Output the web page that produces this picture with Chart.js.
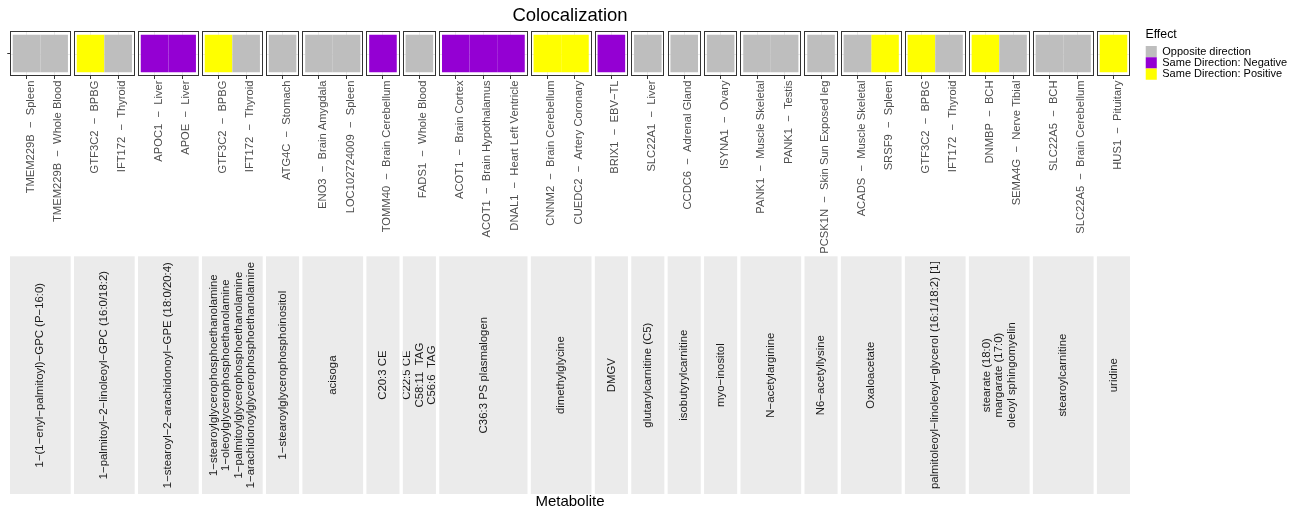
<!DOCTYPE html>
<html>
<head>
<meta charset="utf-8">
<title>Colocalization</title>
<script src="https://cdn.jsdelivr.net/npm/chart.js@4.4.1/dist/chart.umd.min.js"></script>
<style>
  html, body { margin: 0; padding: 0; background: #ffffff; }
  canvas { display: block; }
</style>
</head>
<body>
<canvas id="coloc" width="1297" height="510"></canvas>
<script>
// ---- data -------------------------------------------------------------
// One facet per metabolite (multi-line names separated by \n)
const metaboliteLabels = [
  '1−(1−enyl−palmitoyl)−GPC (P−16:0)',
  '1−palmitoyl−2−linoleoyl−GPC (16:0/18:2)',
  '1−stearoyl−2−arachidonoyl−GPE (18:0/20:4)',
  '1−stearoylglycerophosphoethanolamine\n1−oleoylglycerophosphoethanolamine\n1−palmitoylglycerophosphoethanolamine\n1−arachidonoylglycerophosphoethanolamine',
  '1−stearoylglycerophosphoinositol',
  'acisoga',
  'C20:3 CE',
  'C22:5 CE\nC58:11  TAG\nC56:6  TAG',
  'C36:3 PS plasmalogen',
  'dimethylglycine',
  'DMGV',
  'glutarylcarnitine (C5)',
  'isobutyrylcarnitine',
  'myo−inositol',
  'N−acetylarginine',
  'N6−acetyllysine',
  'Oxaloacetate',
  'palmitoleoyl−linoleoyl−glycerol (16:1/18:2) [1]',
  'stearate (18:0)\nmargarate (17:0)\noleoyl sphingomyelin',
  'stearoylcarnitine',
  'uridine'
];

// Gene – tissue pairs (x tick labels), in plotting order
const pairLabels = [
  'TMEM229B  −  Spleen', 'TMEM229B  −  Whole Blood',
  'GTF3C2  −  BPBG', 'IFT172  −  Thyroid',
  'APOC1  −  Liver', 'APOE  −  Liver',
  'GTF3C2  −  BPBG', 'IFT172  −  Thyroid',
  'ATG4C  −  Stomach',
  'ENO3  −  Brain Amygdala', 'LOC102724009  −  Spleen',
  'TOMM40  −  Brain Cerebellum',
  'FADS1  −  Whole Blood',
  'ACOT1  −  Brain Cortex', 'ACOT1  −  Brain Hypothalamus', 'DNAL1  −  Heart Left Ventricle',
  'CNNM2  −  Brain Cerebellum', 'CUEDC2  −  Artery Coronary',
  'BRIX1  −  EBV−TL',
  'SLC22A1  −  Liver',
  'CCDC6  −  Adrenal Gland',
  'ISYNA1  −  Ovary',
  'PANK1  −  Muscle Skeletal', 'PANK1  −  Testis',
  'PCSK1N  −  Skin Sun Exposed leg',
  'ACADS  −  Muscle Skeletal', 'SRSF9  −  Spleen',
  'GTF3C2  −  BPBG', 'IFT172  −  Thyroid',
  'DNMBP  −  BCH', 'SEMA4G  −  Nerve Tibial',
  'SLC22A5  −  BCH', 'SLC22A5  −  Brain Cerebellum',
  'HUS1  −  Pituitary'
];

// Facet (metabolite index) of each pair
const pairMetabolite = [
  0, 0, 1, 1, 2, 2, 3, 3, 4, 5, 5, 6, 7, 8, 8, 8, 9, 9,
  10, 11, 12, 13, 14, 14, 15, 16, 16, 17, 17, 18, 18, 19, 19, 20
];

// Effect of each pair: 0 = opposite, 1 = same negative, 2 = same positive
const pairEffect = [
  0, 0, 2, 0, 1, 1, 2, 0, 0, 0, 0, 1, 0, 1, 1, 1, 2, 2,
  1, 0, 0, 0, 0, 0, 0, 0, 2, 2, 0, 2, 0, 0, 0, 2
];

const effectNames  = ['Opposite direction', 'Same Direction: Negative', 'Same Direction: Positive'];
const effectColors = ['#BEBEBE', '#9400D3', '#FFFF00'];

// ---- facet geometry (in column units along the x scale) ----------------
const EXPAND = 0.6;   // discrete-axis expansion on each side of a facet
const GAP = 0.12;     // spacing between facets
const ROW = 1;        // single tile row
const FONT = '"Liberation Sans", Arial, Helvetica, sans-serif';

const panelCount = metaboliteLabels.map((_, p) => pairMetabolite.filter(m => m === p).length);
const panelStart = [];
let cursor = 0;
panelCount.forEach(n => { panelStart.push(cursor); cursor += n - 1 + 2 * EXPAND + GAP; });
const xEnd = cursor - GAP;
const panelEnd = panelStart.map((s, p) => s + panelCount[p] - 1 + 2 * EXPAND);
const pairX = pairMetabolite.map((p, i) => {
  const k = pairMetabolite.slice(0, i).filter(m => m === p).length;
  return panelStart[p] + EXPAND + k;
});

// ---- layout constants -------------------------------------------------
const PLOT_LEFT = 10, PLOT_RIGHT = 1130, PLOT_TOP = 31, PLOT_BOTTOM = 76;
const STRIP_TOP = 256.3, STRIP_BOTTOM = 494;
const STRIP_LINE = 12.2;

// Facet decorations: panel grid/borders and metabolite strips
const facetPlugin = {
  id: 'facets',
  beforeDatasetsDraw(chart) {
    const {ctx, scales: {x, y}} = chart;
    const yy = Math.round(y.getPixelForValue(ROW)) + 0.5;
    ctx.save();
    ctx.strokeStyle = '#EBEBEB';
    ctx.lineWidth = 1;
    panelStart.forEach((s, p) => {
      ctx.beginPath();
      ctx.moveTo(x.getPixelForValue(s), yy);
      ctx.lineTo(x.getPixelForValue(panelEnd[p]), yy);
      ctx.stroke();
    });
    ctx.restore();
  },
  afterDatasetsDraw(chart) {
    const {ctx, chartArea, scales: {x}} = chart;
    ctx.save();
    ctx.strokeStyle = '#333333';
    ctx.lineWidth = 1;
    panelStart.forEach((s, p) => {
      const l = Math.round(x.getPixelForValue(s)) + 0.5;
      const r = Math.round(x.getPixelForValue(panelEnd[p])) - 0.5;
      const t = Math.round(chartArea.top) + 0.5;
      const b = Math.round(chartArea.bottom) - 0.5;
      ctx.strokeRect(l, t, r - l, b - t);
    });
    ctx.restore();
  },
  afterDraw(chart) {
    const {ctx, scales: {x}} = chart;
    ctx.save();
    metaboliteLabels.forEach((label, p) => {
      const l = x.getPixelForValue(panelStart[p]);
      const r = x.getPixelForValue(panelEnd[p]);
      ctx.fillStyle = '#EBEBEB';
      ctx.fillRect(l, STRIP_TOP, r - l, STRIP_BOTTOM - STRIP_TOP);
      const lines = label.split('\n');
      ctx.save();
      ctx.beginPath();
      ctx.rect(l, STRIP_TOP, r - l, STRIP_BOTTOM - STRIP_TOP);
      ctx.clip();
      ctx.translate((l + r) / 2, (STRIP_TOP + STRIP_BOTTOM) / 2);
      ctx.rotate(-Math.PI / 2);
      ctx.fillStyle = '#1A1A1A';
      ctx.font = '11.4px ' + FONT;
      ctx.textAlign = 'center';
      ctx.textBaseline = 'middle';
      lines.forEach((t, i) => ctx.fillText(t, 0, (i - (lines.length - 1) / 2) * STRIP_LINE));
      ctx.restore();
    });
    ctx.restore();
  }
};

Chart.defaults.font.family = FONT;
Chart.defaults.color = '#000000';

new Chart(document.getElementById('coloc'), {
  type: 'bar',
  data: {
    datasets: effectNames.map((name, e) => ({
      label: name,
      data: pairX
        .map((xv, i) => ({x: xv, y: [ROW - 0.5, ROW + 0.5], e: pairEffect[i]}))
        .filter(d => d.e === e),
      backgroundColor: effectColors[e],
      borderWidth: 0,
      grouped: false,
      barPercentage: 1,
      categoryPercentage: 1,
      inflateAmount: 0
    }))
  },
  options: {
    responsive: false,
    animation: false,
    events: [],
    layout: { padding: 0 },
    plugins: {
      tooltip: { enabled: false },
      title: {
        display: true,
        text: 'Colocalization',
        fullSize: false,
        color: '#000000',
        font: { size: 18.5, weight: 'normal', lineHeight: 1.2 },
        padding: { top: 4.7, bottom: 4.1 }
      },
      legend: {
        position: 'right',
        align: 'start',
        title: {
          display: true,
          text: 'Effect',
          position: 'start',
          color: '#000000',
          font: { size: 12.3, weight: 'normal', lineHeight: 1.2 },
          padding: { top: 28.5, bottom: 2.7 }
        },
        labels: {
          boxWidth: 11.3,
          boxHeight: 11.3,
          padding: 0,
          color: '#000000',
          font: { size: 11 }
        }
      }
    },
    scales: {
      x: {
        type: 'linear',
        min: 0,
        max: xEnd,
        bounds: 'data',
        offset: false,
        afterBuildTicks: s => { s.ticks = pairX.map(v => ({value: v})); },
        afterFit: s => { s.height = s.chart.height - PLOT_BOTTOM; },
        ticks: {
          autoSkip: false,
          minRotation: 90,
          maxRotation: 90,
          padding: 1.5,
          labelOffset: 4,
          color: '#4D4D4D',
          font: { size: 11.2 },
          callback: (v, i) => pairLabels[i]
        },
        grid: {
          offset: false,
          color: '#EBEBEB',
          lineWidth: 1,
          tickLength: 3,
          tickColor: '#333333',
          tickWidth: 1
        },
        border: { display: false },
        title: {
          display: true,
          text: 'Metabolite',
          color: '#000000',
          font: { size: 15, lineHeight: 1 },
          padding: { top: 0, bottom: 1 }
        }
      },
      y: {
        type: 'linear',
        min: ROW - 0.6,
        max: ROW + 0.6,
        bounds: 'data',
        afterBuildTicks: s => { s.ticks = [{value: ROW}]; },
        afterFit: s => { s.width = PLOT_LEFT; },
        ticks: { display: false },
        grid: {
          drawOnChartArea: false,
          tickLength: 2.75,
          tickColor: '#333333',
          tickWidth: 1
        },
        border: { display: false }
      },
      gutter: {
        type: 'linear',
        position: 'right',
        ticks: { display: false },
        grid: { display: false },
        border: { display: false },
        afterFit: s => { s.width = Math.max(0, s.chart.width - s.chart.legend.width - PLOT_RIGHT); }
      }
    }
  },
  plugins: [facetPlugin]
});
</script>
</body>
</html>
